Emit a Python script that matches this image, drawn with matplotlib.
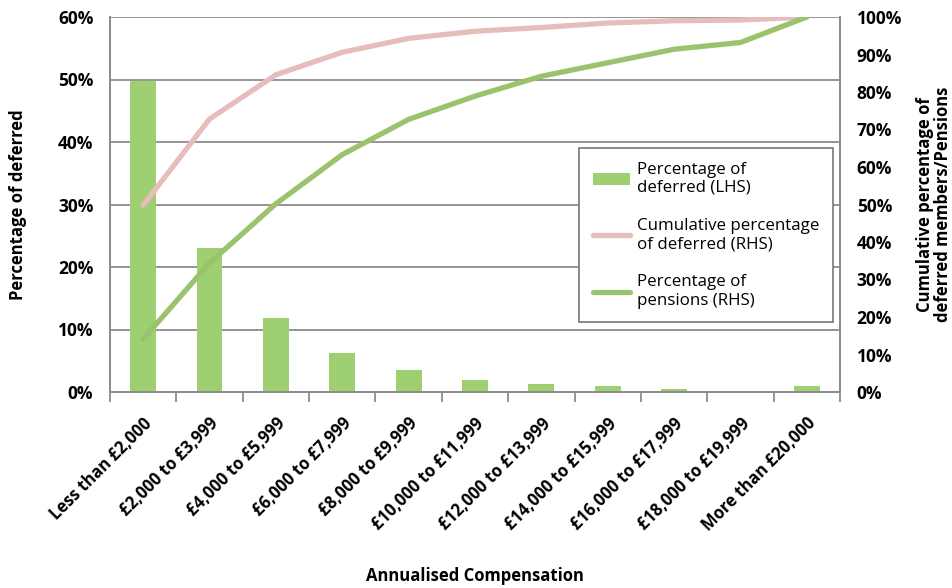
import matplotlib
matplotlib.use("Agg")
import matplotlib.pyplot as plt
import numpy as np
from matplotlib.ticker import FuncFormatter, MultipleLocator

plt.rcParams['font.family'] = ['Open Sans', 'DejaVu Sans']

categories = ["Less than £2,000", "£2,000 to £3,999", "£4,000 to £5,999", "£6,000 to £7,999",
              "£8,000 to £9,999", "£10,000 to £11,999", "£12,000 to £13,999", "£14,000 to £15,999",
              "£16,000 to £17,999", "£18,000 to £19,999", "More than £20,000"]
pct_deferred = [49.8, 23.0, 11.8, 6.2, 3.5, 2.0, 1.3, 0.9, 0.55, 0.2, 0.9]
cum_deferred = [49.8, 72.8, 84.6, 90.6, 94.3, 96.2, 97.2, 98.4, 99.0, 99.2, 100.0]
pct_pensions = [14.1, 34.4, 50.2, 63.3, 72.7, 78.9, 84.2, 87.8, 91.4, 93.2, 100.0]

bar_color = '#9ECF71'
pink = '#E6BDBA'
green_line = '#9BC36D'
grid_gray = '#8C8C8C'

fig = plt.figure(figsize=(9.52, 5.88), dpi=100)
ax = fig.add_axes([110/952, 1-392/588, 730/952, 375/588])
ax2 = ax.twinx()

x = np.arange(len(categories))
b = ax.bar(x, pct_deferred, width=0.39, color=bar_color, zorder=2, label='Percentage of\ndeferred (LHS)')
l1, = ax2.plot(x, cum_deferred, color=pink, lw=3.8, solid_capstyle='round', label='Cumulative percentage\nof deferred (RHS)', zorder=3)
l2, = ax2.plot(x, pct_pensions, color=green_line, lw=3.8, solid_capstyle='round', label='Percentage of\npensions (RHS)', zorder=3)

ax.set_xlim(-0.5, len(categories) - 0.5)
ax.set_ylim(0, 60)
ax2.set_ylim(0, 100)
ax.yaxis.set_major_locator(MultipleLocator(10))
ax2.yaxis.set_major_locator(MultipleLocator(10))
pf = FuncFormatter(lambda v, p: f"{int(round(v))}%")
ax.yaxis.set_major_formatter(pf)
ax2.yaxis.set_major_formatter(pf)

ax.grid(axis='y', color=grid_gray, lw=1.3, zorder=0)
ax.set_axisbelow(True)
for a in (ax, ax2):
    for s in a.spines.values():
        s.set_color(grid_gray)
        s.set_linewidth(1.3)
ax.spines['top'].set_visible(False)
ax2.spines['top'].set_visible(False)

ax.tick_params(axis='y', length=0, pad=12, labelsize=12.5)
ax2.tick_params(axis='y', length=0, pad=12, labelsize=12.5)
for t in ax.get_yticklabels() + ax2.get_yticklabels():
    t.set_fontweight('bold')

# x ticks between categories
ax.set_xticks(np.arange(-0.5, len(categories), 1.0), minor=False)
ax.set_xticklabels([])
ax.tick_params(axis='x', which='major', length=7, width=1.3, color=grid_gray, direction='out')
ax.set_xticks(x, minor=True)
ax.set_xticklabels(categories, minor=True, rotation=45, ha='right', va='top',
                   rotation_mode='anchor', fontsize=12, fontweight='bold')
ax.tick_params(axis='x', which='minor', length=0, pad=16)

ax.set_xlabel('Annualised Compensation', fontsize=12, fontweight='bold', labelpad=23)
ax.set_ylabel('Percentage of deferred', fontsize=12, fontweight='bold', labelpad=22)
ax2.set_ylabel('Cumulative percentage of\ndeferred members/Pensions', fontsize=12, fontweight='bold',
               labelpad=10, linespacing=1.0)

leg = ax2.legend([b, l1, l2], [b.get_label(), l1.get_label(), l2.get_label()],
                 loc='upper left', bbox_to_anchor=((579-110)/730, (392-148)/375),
                 borderaxespad=0,
                 fontsize=12.2, frameon=True, fancybox=False, edgecolor='#777777',
                 handlelength=2.2, borderpad=0.8, labelspacing=1.3, handletextpad=0.4,
                 framealpha=1)
leg.get_frame().set_linewidth(1.2)
leg.set_zorder(5)

fig.savefig('out.png', dpi=100)
